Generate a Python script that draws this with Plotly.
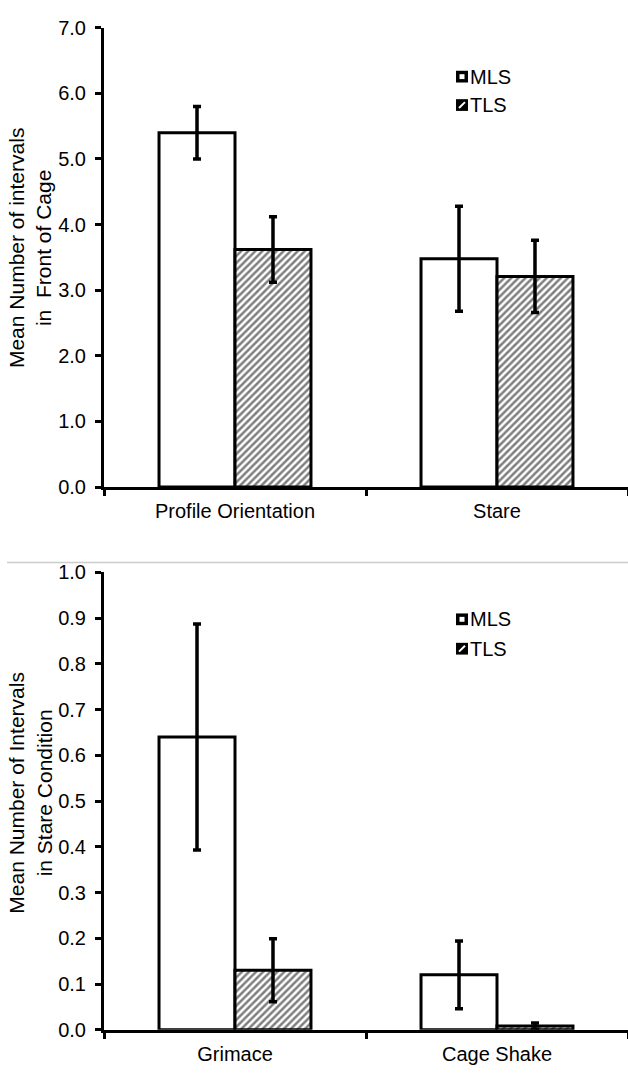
import plotly.graph_objects as go

# ---------------- data ----------------
categories_top = ["Profile Orientation", "Stare"]
mls_top = [5.40, 3.48]
mls_top_err = [0.40, 0.80]
tls_top = [3.62, 3.21]
tls_top_err = [0.50, 0.55]

categories_bottom = ["Grimace", "Cage Shake"]
mls_bottom = [0.64, 0.12]
mls_bottom_err = [0.247, 0.074]
tls_bottom = [0.13, 0.008]
tls_bottom_err = [0.069, 0.007]

series_names = ["MLS", "TLS"]
ytitle_top = "Mean Number of intervals<br>in  Front of Cage"
ytitle_bottom = "Mean Number of Intervals<br>in Stare Condition"

# ---------------- layout helpers ----------------
W, H = 628, 1077
FONT = "Liberation Sans, Arial, sans-serif"
FS = 20


def px(x):
    return x / W


def py(y):
    return 1 - y / H


def err(arr):
    return dict(type="data", array=arr, visible=True, color="black",
                thickness=3.5, width=4)


mls_marker = dict(color="white", line=dict(color="black", width=3))
tls_marker = dict(color="white", line=dict(color="black", width=3),
                  pattern=dict(shape="/", fgcolor="black", bgcolor="white",
                               size=5, solidity=0.5))

fig = go.Figure()
fig.add_bar(x=categories_top, y=mls_top, error_y=err(mls_top_err),
            marker=mls_marker, name=series_names[0], xaxis="x", yaxis="y",
            showlegend=False)
fig.add_bar(x=categories_top, y=tls_top, error_y=err(tls_top_err),
            marker=tls_marker, name=series_names[1], xaxis="x", yaxis="y",
            showlegend=False)
fig.add_bar(x=categories_bottom, y=mls_bottom, error_y=err(mls_bottom_err),
            marker=mls_marker, name=series_names[0], xaxis="x2", yaxis="y2",
            showlegend=False)
fig.add_bar(x=categories_bottom, y=tls_bottom, error_y=err(tls_bottom_err),
            marker=tls_marker, name=series_names[1], xaxis="x2", yaxis="y2",
            showlegend=False)

xcommon = dict(showline=True, linewidth=3, linecolor="black", ticks="outside",
               tickson="boundaries", ticklen=6, tickwidth=3, tickcolor="black",
               showgrid=False, zeroline=False, domain=[px(104), 1],
               tickfont=dict(size=FS, color="black", family=FONT),
               ticklabelstandoff=4)
ycommon = dict(showline=True, linewidth=3, linecolor="black", ticks="outside",
               ticklen=6, tickwidth=3, tickcolor="black", showgrid=False,
               zeroline=False, tickformat=".1f",
               tickfont=dict(size=FS, color="black", family=FONT),
               ticklabelstandoff=5)

fig.update_layout(
    width=W, height=H, autosize=False,
    margin=dict(l=0, r=0, t=0, b=0),
    paper_bgcolor="white", plot_bgcolor="white",
    barmode="group", bargap=0.42, bargroupgap=0,
    font=dict(family=FONT, color="black", size=FS),
    showlegend=False,
    xaxis=dict(**xcommon, anchor="y"),
    yaxis=dict(**ycommon, anchor="x", domain=[py(486), py(17)],
               range=[0, 7], dtick=1),
    xaxis2=dict(**xcommon, anchor="y2"),
    yaxis2=dict(**ycommon, anchor="x2", domain=[py(1040), py(573)],
                range=[0, 1], dtick=0.1),
)

shapes = []
annotations = []

# separator line between the two charts
shapes.append(dict(type="line", xref="paper", yref="paper",
                   x0=px(7), x1=1, y0=py(563), y1=py(563),
                   line=dict(color="#cccccc", width=1.5)))

# y-axis titles
for txt, yc in [(ytitle_top, 242), (ytitle_bottom, 798)]:
    annotations.append(dict(text=txt, xref="paper", yref="paper",
                            x=px(30), y=py(yc), textangle=-90,
                            showarrow=False, align="center",
                            xanchor="center", yanchor="middle",
                            font=dict(size=21, family=FONT, color="black")))


# manual legends
def legend(y_mls, y_tls):
    cx = 462
    # MLS symbol: black square with white centre
    shapes.append(dict(type="rect", xref="paper", yref="paper",
                       x0=px(cx - 6), x1=px(cx + 6),
                       y0=py(y_mls + 6), y1=py(y_mls - 6),
                       fillcolor="black", line=dict(width=0)))
    shapes.append(dict(type="rect", xref="paper", yref="paper",
                       x0=px(cx - 2.5), x1=px(cx + 2.5),
                       y0=py(y_mls + 2.5), y1=py(y_mls - 2.5),
                       fillcolor="white", line=dict(width=0)))
    # TLS symbol: black square with white diagonal
    shapes.append(dict(type="rect", xref="paper", yref="paper",
                       x0=px(cx - 6), x1=px(cx + 6),
                       y0=py(y_tls + 6), y1=py(y_tls - 6),
                       fillcolor="black", line=dict(width=0)))
    shapes.append(dict(type="line", xref="paper", yref="paper",
                       x0=px(cx - 3), x1=px(cx + 3),
                       y0=py(y_tls + 3), y1=py(y_tls - 3),
                       line=dict(color="white", width=2)))
    for name, yy in [(series_names[0], y_mls), (series_names[1], y_tls)]:
        annotations.append(dict(text=name, xref="paper", yref="paper",
                                x=px(468), y=py(yy), xanchor="left",
                                yanchor="middle", showarrow=False,
                                font=dict(size=FS, family=FONT,
                                          color="black")))


legend(67, 96)
legend(621, 651)

fig.update_layout(shapes=shapes, annotations=annotations)

fig.write_html("out.html")
